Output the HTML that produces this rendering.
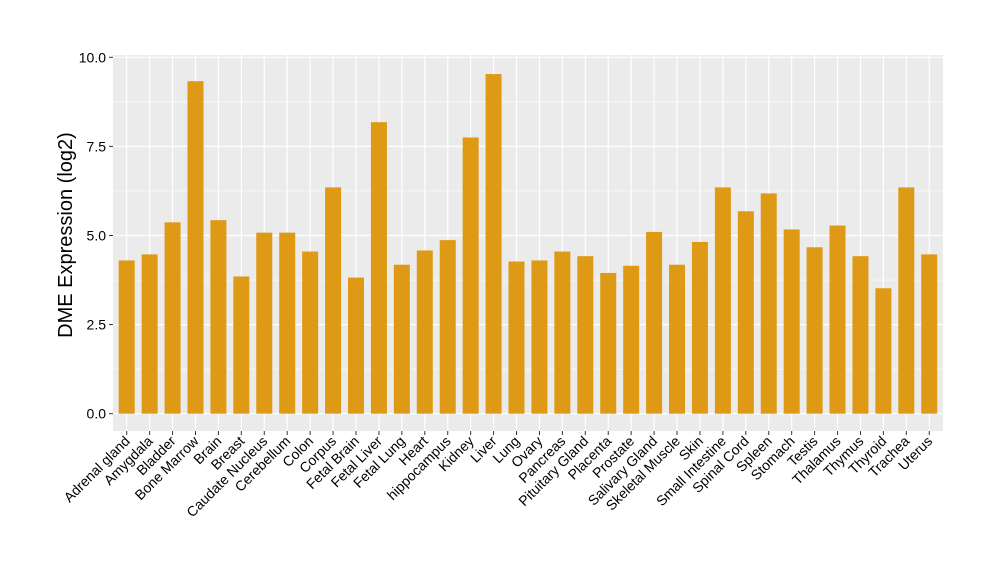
<!DOCTYPE html>
<html><head><meta charset="utf-8"><style>body{margin:0;background:#fff}svg{display:block}</style></head>
<body>
<svg width="1000" height="580" xmlns="http://www.w3.org/2000/svg" font-family="Liberation Sans, sans-serif">
<rect x="113" y="55" width="830" height="376" fill="#EBEBEB"/>
<g id="grid"></g>
<g id="bars"></g>
<g id="labels"></g>
<text transform="translate(72,235) rotate(-90)" text-anchor="middle" font-size="20" fill="#000">DME Expression (log2)</text>
<script>
const vals=[["Adrenal gland",4.3],["Amygdala",4.47],["Bladder",5.37],["Bone Marrow",9.33],["Brain",5.43],["Breast",3.85],["Caudate Nucleus",5.08],["Cerebellum",5.08],["Colon",4.55],["Corpus",6.35],["Fetal Brain",3.82],["Fetal Liver",8.18],["Fetal Lung",4.18],["Heart",4.58],["hippocampus",4.87],["Kidney",7.75],["Liver",9.53],["Lung",4.27],["Ovary",4.3],["Pancreas",4.55],["Pituitary Gland",4.42],["Placenta",3.95],["Prostate",4.15],["Salivary Gland",5.1],["Skeletal Muscle",4.18],["Skin",4.82],["Small Intestine",6.35],["Spinal Cord",5.68],["Spleen",6.18],["Stomach",5.17],["Testis",4.67],["Thalamus",5.28],["Thymus",4.42],["Thyroid",3.52],["Trachea",6.35],["Uterus",4.47]];
const ns="http://www.w3.org/2000/svg";
const y0=413.7,k=35.64,x0=126.7,dx=22.93;
let g=document.getElementById("grid"),b=document.getElementById("bars"),l=document.getElementById("labels");
function el(p,t,a,txt){const e=document.createElementNS(ns,t);for(const q in a)e.setAttribute(q,a[q]);if(txt)e.textContent=txt;p.appendChild(e);return e;}
for(let v=1.25;v<10.5;v+=2.5){const y=y0-v*k;el(g,"line",{x1:113,x2:943,y1:y,y2:y,stroke:"#fff","stroke-width":0.6});}
for(let v=0;v<=10;v+=2.5){const y=y0-v*k;el(g,"line",{x1:113,x2:943,y1:y,y2:y,stroke:"#fff","stroke-width":1.2});
el(g,"line",{x1:109,x2:113,y1:y,y2:y,stroke:"#333","stroke-width":1});
el(g,"text",{x:106,y:y+5,"text-anchor":"end","font-size":14,fill:"#000"},v.toFixed(1));}
vals.forEach((d,i)=>{const x=x0+i*dx;
el(g,"line",{x1:x,x2:x,y1:55,y2:431,stroke:"#fff","stroke-width":1.2});
el(g,"line",{x1:x,x2:x,y1:431,y2:435,stroke:"#333","stroke-width":1});
el(b,"rect",{x:x-8,y:y0-d[1]*k,width:16,height:d[1]*k,fill:"#DE9A14"});
el(l,"text",{transform:`translate(${x+4},${442}) rotate(-45)`,"text-anchor":"end","font-size":14,fill:"#000"},d[0]);});
</script>
</svg>
</body></html>
